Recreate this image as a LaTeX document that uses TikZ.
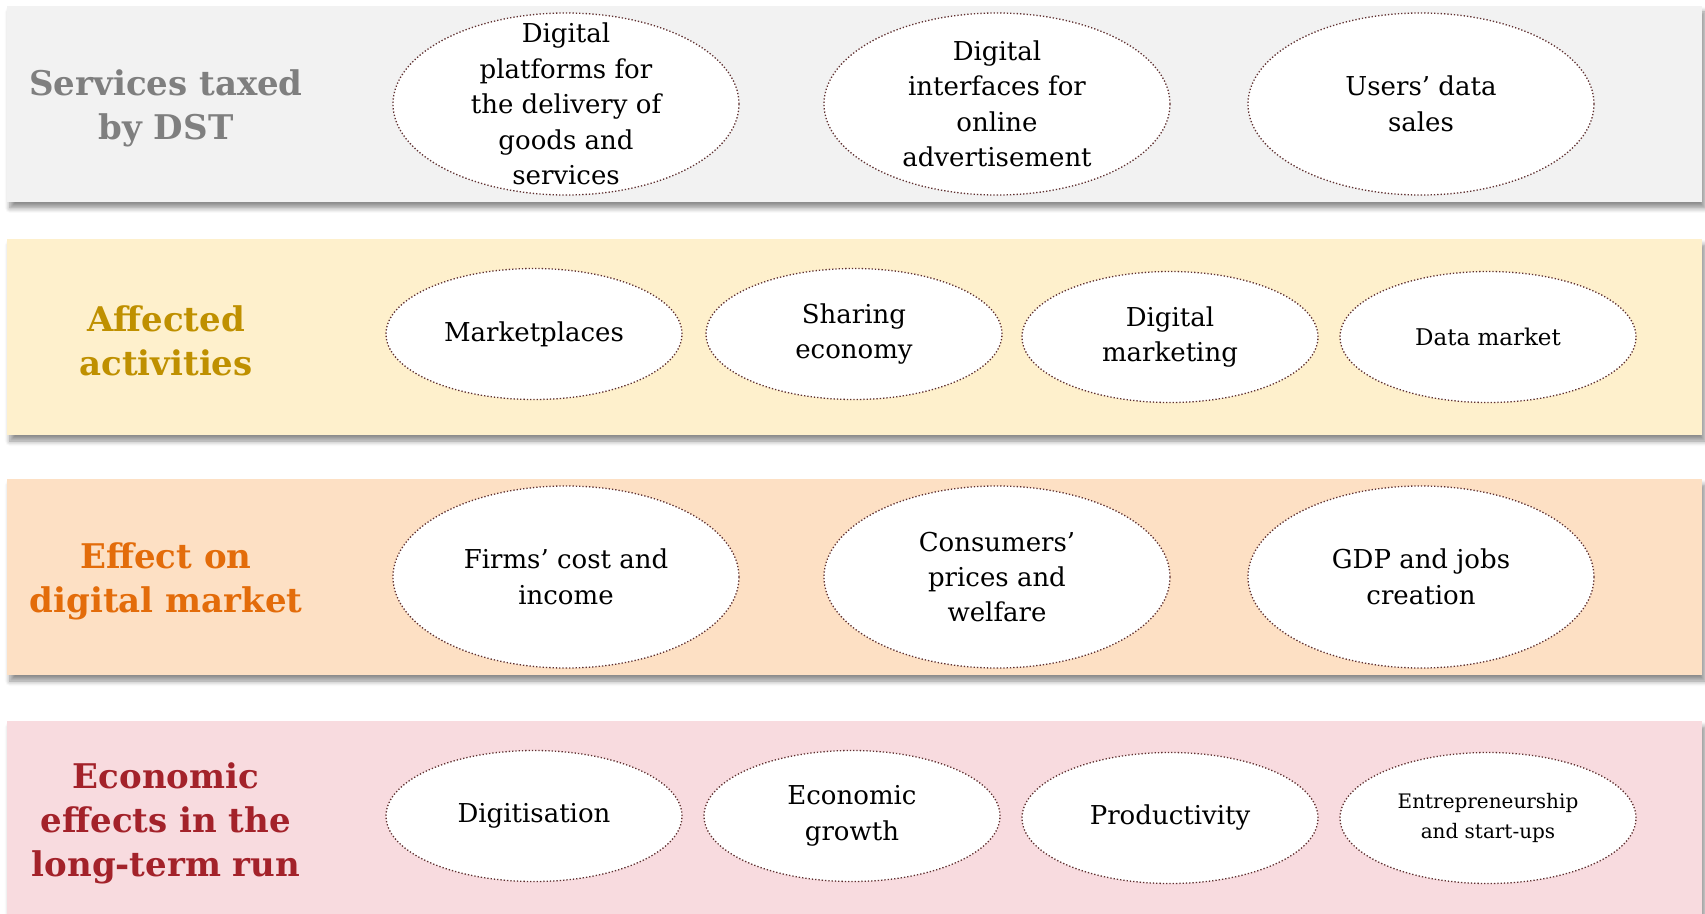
\documentclass[tikz,border=0pt]{standalone}
\usepackage{fontspec}
\setmainfont{DejaVu Serif}
\usetikzlibrary{shapes.geometric}
\usetikzlibrary{shadows,shadows.blur}

\definecolor{dstfill}{HTML}{F2F2F2}
\definecolor{dsttext}{HTML}{7F7F7F}
\definecolor{actfill}{HTML}{FEF0CC}
\definecolor{acttext}{HTML}{BF9000}
\definecolor{mktfill}{HTML}{FDE0C4}
\definecolor{mkttext}{HTML}{E36C0A}
\definecolor{ecofill}{HTML}{F8DBDF}
\definecolor{ecotext}{HTML}{A3222A}
\definecolor{ovalline}{HTML}{5E2F2F}

\tikzset{
  band/.style={blur shadow={shadow xshift=1.5pt, shadow yshift=-3pt, shadow opacity=45, shadow blur steps=6, shadow blur radius=2.5pt}},
  bandtitle/.style={align=center, font=\fontsize{17}{22}\selectfont\bfseries},
  oval/.style={ellipse, draw=ovalline, densely dotted, line width=0.65pt, fill=white,
    align=center, inner xsep=0pt, inner ysep=-18pt, font=\fontsize{13}{17.7}\selectfont},
  bigoval/.style={oval, minimum width=173pt, minimum height=91pt},
  smalloval/.style={oval, minimum width=148pt, minimum height=65.5pt},
}

\begin{document}
\begin{tikzpicture}[x=0.5pt, y=-0.5pt]

  \useasboundingbox (0,0) rectangle (1705,914);
  \def\bl{7};
  \def\br{1702};
  \def\bh{196};

  \foreach \y/\fcol/\tcol/\txt/\name in {6/dstfill/dsttext/{Services taxed\\by DST}/dst,
      239/actfill/acttext/{Affected\\activities}/act,
      479/mktfill/mkttext/{Effect on\\digital market}/mkt,
      721/ecofill/ecotext/{Economic\\effects in the\\long-term run}/eco} {
    \fill[band, fill=\fcol] (\bl,\y) rectangle (\br,\y+\bh);
    \node[bandtitle, text=\tcol] (\name) at (166,\y+102) {\txt};
  }

  \node[bigoval] (plat) at (566,104) {Digital\\platforms for\\the delivery of\\goods and\\services};
  \node[bigoval] (adv) at (997,104) {Digital\\interfaces for\\online\\advertisement};
  \node[bigoval] (sales) at (1421,104) {Users’ data\\sales};

  \node[smalloval] (place) at (534,334) {Marketplaces};
  \node[smalloval] (share) at (854,334) {Sharing\\economy};
  \node[smalloval] (dmark) at (1170,337) {Digital\\marketing};
  \node[smalloval, font=\fontsize{11.5}{15}\selectfont] (datam) at (1488,337) {Data market};

  \node[bigoval] (firms) at (566,577) {Firms’ cost and\\income};
  \node[bigoval] (cons) at (997,577) {Consumers’\\prices and\\welfare};
  \node[bigoval] (gdp) at (1421,577) {GDP and jobs\\creation};

  \node[smalloval] (digit) at (534,816) {Digitisation};
  \node[smalloval] (growth) at (852,816) {Economic\\growth};
  \node[smalloval] (prod) at (1170,818) {Productivity};
  \node[smalloval, font=\fontsize{10}{15.3}\selectfont] (entre) at (1488,818) {Entrepreneurship\\and start-ups};

\end{tikzpicture}
\end{document}
